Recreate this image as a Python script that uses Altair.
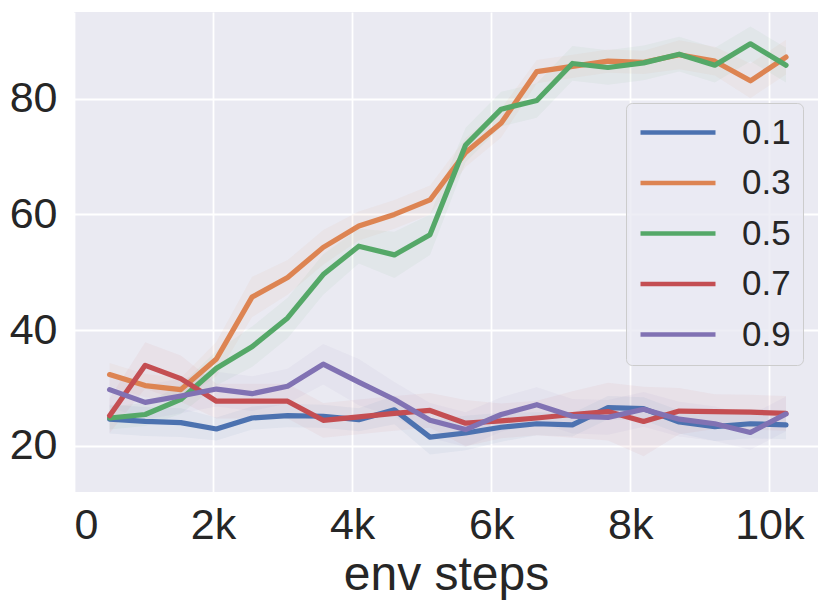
import altair as alt
import pandas as pd

STEPS = [512, 1024, 1536, 2048, 2560, 3072, 3584, 4096, 4608, 5120,
         5632, 6144, 6656, 7168, 7680, 8192, 8704, 9216, 9728, 10240]

SERIES = ["0.1", "0.3", "0.5", "0.7", "0.9"]
COLORS = ["#4C72B0", "#DD8452", "#55A868", "#C44E52", "#8172B3"]

MEAN_01 = [24.6, 24.2, 24.0, 22.9, 24.8, 25.2, 25.1, 24.5, 26.2, 21.5,
           22.2, 23.2, 23.8, 23.6, 26.6, 26.4, 24.1, 23.3, 23.8, 23.6]
MEAN_03 = [32.3, 30.4, 29.7, 35.0, 45.7, 49.1, 54.3, 58.0, 60.0, 62.5,
           70.7, 75.8, 84.7, 85.6, 86.5, 86.3, 87.6, 86.5, 83.1, 87.2]
MEAN_05 = [24.8, 25.4, 28.0, 33.4, 37.1, 42.1, 49.6, 54.5, 53.0, 56.5,
           72.0, 78.2, 79.7, 86.1, 85.4, 86.2, 87.7, 85.8, 89.5, 85.8]
MEAN_07 = [25.2, 33.9, 31.6, 27.7, 27.7, 27.7, 24.4, 25.0, 25.6, 26.1,
           23.9, 24.3, 24.8, 25.4, 25.9, 24.2, 26.0, 25.9, 25.8, 25.6]
MEAN_09 = [29.7, 27.5, 28.6, 29.8, 29.0, 30.3, 34.1, 31.0, 28.0, 24.4,
           22.8, 25.4, 27.1, 25.1, 24.9, 26.3, 24.6, 23.8, 22.3, 25.5]

# half-width of the shaded band
SPREAD_01 = [2.5, 2.5, 2.5, 2.0, 2.0, 2.0, 2.0, 2.0, 2.5, 3.0,
             3.0, 2.5, 2.0, 2.0, 2.0, 2.0, 2.0, 2.5, 2.5, 2.5]
SPREAD_03 = [2.0, 2.0, 2.0, 3.0, 3.5, 3.0, 3.0, 2.5, 2.5, 2.5,
             2.5, 2.5, 2.0, 2.0, 2.0, 2.0, 2.5, 2.5, 3.0, 3.0]
SPREAD_05 = [2.0, 2.0, 2.5, 3.0, 3.5, 3.5, 3.5, 3.0, 4.0, 3.5,
             3.0, 3.0, 3.0, 3.0, 3.0, 3.0, 3.0, 3.0, 3.0, 3.0]
SPREAD_07 = [3.0, 4.0, 4.0, 3.0, 3.0, 3.0, 3.0, 3.0, 3.0, 3.0,
             4.0, 3.0, 3.0, 4.0, 5.0, 6.0, 4.0, 3.0, 3.0, 3.0]
SPREAD_09 = [3.0, 3.0, 3.0, 3.0, 3.0, 3.0, 3.5, 4.0, 3.0, 3.0,
             3.0, 3.0, 3.0, 3.0, 3.0, 3.0, 3.0, 3.0, 3.0, 3.0]

X_TICKS = [0, 2000, 4000, 6000, 8000, 10000]
Y_TICKS = [20, 40, 60, 80]

means = [MEAN_01, MEAN_03, MEAN_05, MEAN_07, MEAN_09]
spreads = [SPREAD_01, SPREAD_03, SPREAD_05, SPREAD_07, SPREAD_09]

rows = []
for name, m, s in zip(SERIES, means, spreads):
    for x, v, d in zip(STEPS, m, s):
        rows.append({"step": x, "series": name, "value": v,
                     "lo": v - d, "hi": v + d})
df = pd.DataFrame(rows)

FONT = "Liberation Sans"
TXT = "#262626"

x_enc = alt.X(
    "step:Q",
    scale=alt.Scale(domain=[0, 10700], nice=False, zero=False),
    axis=alt.Axis(
        values=X_TICKS,
        labelExpr="datum.value == 0 ? '0' : (datum.value / 1000) + 'k'",
        title="env steps",
        labelFontSize=43,
        titleFontSize=48,
        titleFontWeight="normal",
        labelPadding=12,
        titlePadding=4,
        labelFlush=True,
    ),
)
y_scale = alt.Scale(domain=[12, 95], nice=False, zero=False)

legend = alt.Legend(
    title=None,
    orient="none",
    legendX=552,
    legendY=91,
    symbolType="M-1,0H4",
    symbolSize=900,
    symbolStrokeWidth=4.5,
    labelFontSize=35,
    labelOffset=69,
    rowPadding=14.5,
    padding=12,
    fillColor="rgba(234,234,242,0.8)",
    strokeColor="#CCCCCC",
    cornerRadius=6,
)
color_enc = alt.Color("series:N", scale=alt.Scale(domain=SERIES, range=COLORS),
                      legend=legend)

band = alt.Chart(df).mark_area(fillOpacity=0.06).encode(
    x=x_enc,
    y=alt.Y("lo:Q", scale=y_scale,
            axis=alt.Axis(values=Y_TICKS, title=None, labelFontSize=43,
                          labelPadding=17)),
    y2="hi:Q",
    color=color_enc,
)

line = alt.Chart(df).mark_line(strokeWidth=5.2, strokeCap="round",
                               strokeJoin="round").encode(
    x=x_enc,
    y=alt.Y("value:Q", scale=y_scale),
    color=color_enc,
)

chart = alt.layer(band, line).properties(
    width=744,
    height=480,
    autosize=alt.AutoSizeParams(type="none"),
    padding={"left": 66, "top": 4, "right": 5, "bottom": 110},
).configure_view(
    fill="#EAEAF2", stroke=None
).configure_axis(
    grid=True,
    gridColor="#FFFFFF",
    gridWidth=1.8,
    domain=False,
    ticks=False,
    labelFont=FONT,
    titleFont=FONT,
    labelColor=TXT,
    titleColor=TXT,
).configure_legend(
    labelFont=FONT,
    labelColor=TXT,
)

chart.save("out.html", embed_options={"renderer": "svg", "actions": False})
